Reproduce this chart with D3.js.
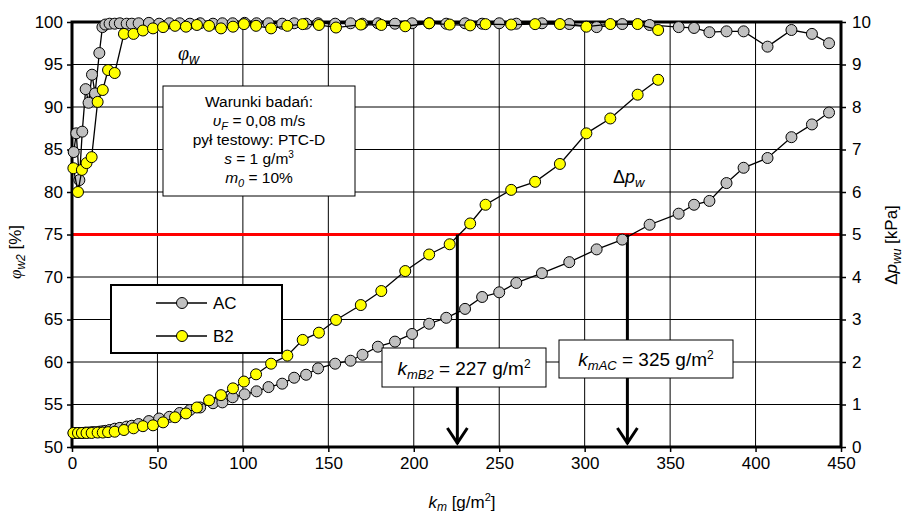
<!DOCTYPE html>
<html>
<head>
<meta charset="utf-8">
<script src="https://cdn.jsdelivr.net/npm/d3@7"></script>
<style>
  body { margin: 0; background: #fff; }
  svg { display: block; font-family: "Liberation Sans", Arial, sans-serif; }
</style>
</head>
<body>
<svg id="chart" width="904" height="517"></svg>
<script>
// dust load k_m [g/m2], efficiency phi_w2 [%], pressure drop dp_wu [kPa]
const kmAC = [1.0, 2.5, 4.3, 6.0, 8.0, 9.7, 11.7, 13.5, 16, 17.8, 19.5, 22, 25, 28, 32, 35, 39, 45, 51, 57,
  63, 69, 75, 82.5, 88, 94, 101, 108, 115, 123, 130, 137, 144, 154, 163, 170, 179, 189, 199, 209,
  219, 230, 240, 250, 260, 275, 291, 307, 322, 338, 355, 364, 373, 383, 393, 407, 421, 433, 443];
const effAC = [84.7, 86.9, 81.4, 87.1, 92.1, 90.5, 93.8, 91.6, 96.35, 99.4, 99.7, 99.8, 99.8, 99.85, 99.8, 99.8, 99.85, 99.9, 99.8, 99.85,
  99.85, 99.8, 99.85, 99.8, 99.85, 99.85, 99.9, 99.85, 99.85, 99.8, 99.85, 99.8, 99.85, 99.8, 99.85, 99.8, 99.85, 99.8, 99.85, 99.85,
  99.8, 99.85, 99.8, 99.85, 99.8, 99.85, 99.76, 99.4, 99.76, 99.65, 99.4, 99.3, 98.8, 98.9, 98.9, 97.1, 99.06, 98.6, 97.5];
const dpAC = [0.33, 0.33, 0.33, 0.33, 0.34, 0.34, 0.35, 0.35, 0.36, 0.37, 0.38, 0.40, 0.43, 0.45, 0.48, 0.50, 0.54, 0.61, 0.67, 0.71,
  0.80, 0.87, 0.93, 1.03, 1.05, 1.17, 1.24, 1.31, 1.41, 1.49, 1.63, 1.70, 1.85, 1.96, 2.03, 2.17, 2.36, 2.48, 2.66, 2.90,
  3.04, 3.25, 3.53, 3.64, 3.86, 4.09, 4.35, 4.65, 4.88, 5.23, 5.49, 5.70, 5.79, 6.21, 6.57, 6.80, 7.29, 7.59, 7.87];

const kmB2 = [0.8, 3.5, 5.8, 8.5, 11.5, 15.0, 18.0, 21.1, 25.0, 30.4, 36.0, 41.5, 47.4, 53.3, 60.3, 66.7, 73.1, 80.2, 87.2, 94.2,
  100.6, 107.7, 116.5, 126, 135, 144.5, 154.5, 169, 181, 195, 209, 221, 233, 242, 257, 271, 285.5, 301, 315, 331, 343];
const effB2 = [82.8, 80.0, 82.6, 83.4, 84.1, 90.6, 92.0, 94.35, 94.0, 98.6, 98.6, 99.0, 99.25, 99.4, 99.55, 99.45, 99.65, 99.55, 99.25, 99.45,
  99.75, 99.55, 99.25, 99.55, 99.75, 99.65, 99.35, 99.7, 99.65, 99.5, 99.85, 99.7, 99.6, 99.75, 99.7, 99.75, 99.76, 99.45, 99.76, 99.76, 99.06];
const dpB2 = [0.33, 0.33, 0.33, 0.33, 0.33, 0.34, 0.34, 0.35, 0.36, 0.40, 0.44, 0.49, 0.51, 0.58, 0.70, 0.79, 0.93, 1.10, 1.22, 1.38,
  1.54, 1.71, 1.96, 2.15, 2.52, 2.69, 2.99, 3.34, 3.67, 4.14, 4.53, 4.77, 5.26, 5.70, 6.05, 6.24, 6.66, 7.38, 7.73, 8.29, 8.64];

const xTicks = [0, 50, 100, 150, 200, 250, 300, 350, 400, 450];
const leftTicks = [50, 55, 60, 65, 70, 75, 80, 85, 90, 95, 100];
const rightTicks = [0, 1, 2, 3, 4, 5, 6, 7, 8, 9, 10];

const dpLimit = 5;
const arrowKm = [225.5, 325];
const conditions = ["Warunki badań:", "υF = 0,08 m/s", "pył testowy: PTC-D", "s = 1 g/m3", "m0 = 10%"];

const svg = d3.select("#chart");
const mLeft = 72, mRight = 841, mTop = 22, mBottom = 447;

const x = d3.scaleLinear().domain([0, 450]).range([mLeft, mRight]);
const yL = d3.scaleLinear().domain([50, 100]).range([mBottom, mTop]);
const yR = d3.scaleLinear().domain([0, 10]).range([mBottom, mTop]);

// grid
const grid = svg.append("g").attr("stroke", "#000").attr("stroke-width", 1);
grid.selectAll(".gx").data(xTicks.slice(1, -1)).join("line")
  .attr("x1", d => x(d)).attr("x2", d => x(d)).attr("y1", mTop).attr("y2", mBottom);
grid.selectAll(".gy").data(leftTicks.slice(1, -1)).join("line")
  .attr("x1", mLeft).attr("x2", mRight).attr("y1", d => yL(d)).attr("y2", d => yL(d));

// axes
const axX = svg.append("g").attr("transform", `translate(0,${mBottom})`)
  .call(d3.axisBottom(x).tickValues(xTicks).tickSize(5).tickPadding(5));
const axL = svg.append("g").attr("transform", `translate(${mLeft},0)`)
  .call(d3.axisLeft(yL).tickValues(leftTicks).tickSize(5).tickPadding(4));
const axR = svg.append("g").attr("transform", `translate(${mRight},0)`)
  .call(d3.axisRight(yR).tickValues(rightTicks).tickSize(5).tickPadding(6));
[axX, axL, axR].forEach(a => {
  a.select(".domain").remove();
  a.selectAll(".tick line").attr("stroke", "#000").attr("stroke-width", 1.5);
  a.selectAll(".tick text").attr("font-size", 17).attr("fill", "#000")
    .attr("font-family", "Liberation Sans, Arial, sans-serif");
});

// limit line
svg.append("line")
  .attr("x1", mLeft).attr("x2", mRight).attr("y1", yR(dpLimit)).attr("y2", yR(dpLimit))
  .attr("stroke", "#ff0000").attr("stroke-width", 3);

// frame
svg.append("rect").attr("x", mLeft).attr("y", mTop)
  .attr("width", mRight - mLeft).attr("height", mBottom - mTop)
  .attr("fill", "none").attr("stroke", "#000").attr("stroke-width", 3);

// conditions box
const cb = svg.append("g");
cb.append("rect").attr("x", 163).attr("y", 86).attr("width", 192).attr("height", 110)
  .attr("fill", "#fff").attr("stroke", "#000").attr("stroke-width", 1);
const ct = cb.append("g").attr("font-size", 15.5).attr("text-anchor", "middle");
ct.append("text").attr("x", 259).attr("y", 107).text(conditions[0]);
let t = ct.append("text").attr("x", 259).attr("y", 126);
t.append("tspan").attr("font-style", "italic").text("υ");
t.append("tspan").attr("font-style", "italic").attr("font-size", 11).attr("dy", 4).text("F");
t.append("tspan").attr("dy", -4).text(" = 0,08 m/s");
ct.append("text").attr("x", 259).attr("y", 145).text(conditions[2]);
t = ct.append("text").attr("x", 259).attr("y", 164);
t.append("tspan").attr("font-style", "italic").text("s");
t.append("tspan").text(" = 1 g/m");
t.append("tspan").attr("font-size", 10).attr("dy", -6).text("3");
t = ct.append("text").attr("x", 259).attr("y", 183);
t.append("tspan").attr("font-style", "italic").text("m");
t.append("tspan").attr("font-style", "italic").attr("font-size", 11).attr("dy", 4).text("0");
t.append("tspan").attr("dy", -4).text(" = 10%");

// arrows
const arr = svg.append("g").attr("stroke", "#000").attr("stroke-width", 3).attr("fill", "none");
arrowKm.forEach(k => {
  arr.append("line").attr("x1", x(k)).attr("x2", x(k)).attr("y1", yR(dpLimit)).attr("y2", mBottom - 3);
  arr.append("path").attr("d", `M${x(k) - 10},${mBottom - 19}L${x(k)},${mBottom - 4}L${x(k) + 10},${mBottom - 19}`);
});

// series
const line = yS => d3.line().x(d => x(d[0])).y(d => yS(d[1]));
function drawSeries(km, vals, yS, fill) {
  const pts = km.map((k, i) => [k, vals[i]]);
  svg.append("path").datum(pts).attr("d", line(yS))
    .attr("fill", "none").attr("stroke", "#000").attr("stroke-width", 1.3);
  svg.append("g").selectAll("circle").data(pts).join("circle")
    .attr("cx", d => x(d[0])).attr("cy", d => yS(d[1])).attr("r", 5.5)
    .attr("fill", fill).attr("stroke", "#000").attr("stroke-width", 1);
}
drawSeries(kmAC, effAC, yL, "#c0c0c0");
drawSeries(kmAC, dpAC, yR, "#c0c0c0");
drawSeries(kmB2, effB2, yL, "#ffff00");
drawSeries(kmB2, dpB2, yR, "#ffff00");

// km boxes
function kmBox(bx, by, bw, bh, sub, val) {
  const g = svg.append("g");
  g.append("rect").attr("x", bx).attr("y", by).attr("width", bw).attr("height", bh)
    .attr("fill", "#fff").attr("stroke", "#000").attr("stroke-width", 1);
  const tx = g.append("text").attr("x", bx + bw / 2).attr("y", by + bh / 2 + 7)
    .attr("text-anchor", "middle").attr("font-size", 19);
  tx.append("tspan").attr("font-style", "italic").text("k");
  tx.append("tspan").attr("font-style", "italic").attr("font-size", 13).attr("dy", 4).text(sub);
  tx.append("tspan").attr("dy", -4).text(` = ${val} g/m`);
  tx.append("tspan").attr("font-size", 12).attr("dy", -7).text("2");
}
kmBox(382, 348, 164, 39, "mB2", 227);
kmBox(559, 340, 174, 38, "mAC", 325);

// legend
const lg = svg.append("g");
lg.append("rect").attr("x", 111).attr("y", 285).attr("width", 171).attr("height", 68)
  .attr("fill", "#fff").attr("stroke", "#000").attr("stroke-width", 2);
[["AC", "#c0c0c0", 303], ["B2", "#ffff00", 336]].forEach(([name, fill, ly]) => {
  lg.append("line").attr("x1", 156).attr("x2", 207).attr("y1", ly).attr("y2", ly)
    .attr("stroke", "#000").attr("stroke-width", 1.3);
  lg.append("circle").attr("cx", 182).attr("cy", ly).attr("r", 5.5)
    .attr("fill", fill).attr("stroke", "#000");
  lg.append("text").attr("x", 213).attr("y", ly + 6).attr("font-size", 17).text(name);
});

// curve labels
t = svg.append("text").attr("x", 178).attr("y", 60).attr("font-size", 20);
t.append("tspan").attr("font-style", "italic").attr("font-family", "Liberation Serif, serif").text("φ");
t.append("tspan").attr("font-style", "italic").attr("font-size", 14).attr("dy", 4).text("w");
t = svg.append("text").attr("x", 613).attr("y", 183).attr("font-size", 18);
t.append("tspan").text("Δ");
t.append("tspan").attr("font-style", "italic").text("p");
t.append("tspan").attr("font-style", "italic").attr("font-size", 13).attr("dy", 4).text("w");

// axis titles
t = svg.append("text").attr("text-anchor", "middle").attr("font-size", 17)
  .attr("transform", "translate(21,252) rotate(-90)");
t.append("tspan").attr("font-style", "italic").attr("font-family", "Liberation Serif, serif").text("φ");
t.append("tspan").attr("font-style", "italic").attr("font-size", 12).attr("dy", 4).text("w2");
t.append("tspan").attr("dy", -4).text(" [%]");

t = svg.append("text").attr("text-anchor", "middle").attr("font-size", 17)
  .attr("transform", "translate(897,245) rotate(-90)");
t.append("tspan").text("Δ");
t.append("tspan").attr("font-style", "italic").text("p");
t.append("tspan").attr("font-style", "italic").attr("font-size", 12).attr("dy", 4).text("wu");
t.append("tspan").attr("dy", -4).text(" [kPa]");

t = svg.append("text").attr("text-anchor", "middle").attr("font-size", 17)
  .attr("x", 462).attr("y", 508);
t.append("tspan").attr("font-style", "italic").text("k");
t.append("tspan").attr("font-style", "italic").attr("font-size", 12).attr("dy", 3).text("m");
t.append("tspan").attr("dy", -3).text(" [g/m");
t.append("tspan").attr("font-size", 11).attr("dy", -7).text("2");
t.append("tspan").attr("dy", 7).text("]");
</script>
</body>
</html>
